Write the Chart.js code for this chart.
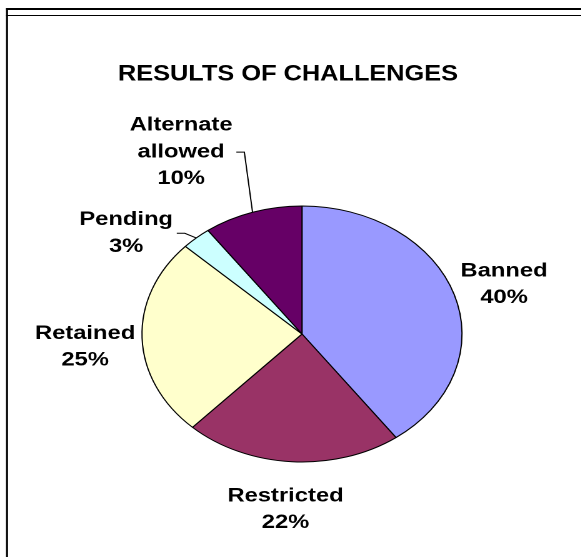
<!DOCTYPE html>
<html>
<head>
<meta charset="utf-8">
<title>Results of Challenges</title>
<script src="https://cdn.jsdelivr.net/npm/chart.js@4.4.1/dist/chart.umd.min.js"></script>
<style>
  html, body { margin: 0; padding: 0; background: #fff; overflow: hidden; }
  /* chart is laid out narrow, then widened so the pie becomes an oval */
  #wrap { width: 465px; height: 557px; transform: scaleX(1.25); transform-origin: 0 0; }
</style>
</head>
<body>
<div id="wrap"><canvas id="challengeChart" width="465" height="557"></canvas></div>
<script>
// chart data
const chartTitle = 'RESULTS OF CHALLENGES';
const categories = ['Banned', 'Restricted', 'Retained', 'Pending', 'Alternate allowed'];
const percents = [40, 22, 25, 3, 10];
const sliceColors = ['#9999FF', '#993366', '#FFFFCC', '#CCFFFF', '#660066'];

// label placement: turn (degrees) off the slice middle, gap past the rim
const labelPlacement = [
  { turn: 1, gap: 41, leader: false },
  { turn: 0.7, gap: 48, leader: false },
  { turn: -2.5, gap: 46, leader: false },
  { turn: -13, gap: 45, leader: true },
  { turn: -10, gap: 78, leader: true },
];

const fontFamily = '"Liberation Sans", Arial, sans-serif';
const labelFont = 'bold 19px ' + fontFamily;
const titleFont = 'bold 22px ' + fontFamily;
const lineGap = 26.7;

// white background, frame lines at top and left, and the heading
const frame = {
  id: 'frame',
  beforeDraw(chart) {
    const ctx = chart.ctx;
    ctx.save();
    ctx.fillStyle = '#fff';
    ctx.fillRect(0, 0, chart.width, chart.height);
    ctx.fillStyle = '#000';
    ctx.fillRect(4.8, 8, chart.width, 2);
    ctx.fillRect(4.8, 15, chart.width, 1);
    ctx.fillRect(4.8, 8, 1.6, chart.height);
    ctx.font = titleFont;
    ctx.textAlign = 'center';
    ctx.textBaseline = 'middle';
    ctx.fillText(chartTitle, 230.4, 74.5, 272);
    ctx.restore();
  }
};

// name + percent outside each slice, with leader lines for the small ones
const sliceLabels = {
  id: 'sliceLabels',
  afterDatasetsDraw(chart) {
    const ctx = chart.ctx;
    const meta = chart.getDatasetMeta(0);
    const values = chart.data.datasets[0].data;
    const total = values.reduce((a, b) => a + b, 0);
    ctx.save();
    ctx.font = labelFont;
    ctx.textAlign = 'center';
    ctx.textBaseline = 'middle';
    ctx.fillStyle = '#000';
    meta.data.forEach((arc, i) => {
      const p = arc.getProps(['x', 'y', 'startAngle', 'endAngle', 'outerRadius'], true);
      const mid = (p.startAngle + p.endAngle) / 2;
      const place = labelPlacement[i];
      const a = mid + place.turn * Math.PI / 180;
      const dist = p.outerRadius + place.gap;
      const cx = p.x + Math.cos(a) * dist;
      const cy = p.y + Math.sin(a) * dist;
      const lines = chart.data.labels[i].split(' ');
      lines.push(Math.round(values[i] / total * 100) + '%');
      const top = cy - (lines.length - 1) * lineGap / 2;
      let widest = 0;
      lines.forEach((t, k) => {
        ctx.fillText(t, cx, top + k * lineGap);
        widest = Math.max(widest, ctx.measureText(t).width);
      });
      if (place.leader) {
        const sx = cx + widest / 2 + 3;
        ctx.beginPath();
        ctx.moveTo(sx, cy);
        ctx.lineTo(sx + 6.4, cy);
        ctx.lineTo(p.x + Math.cos(mid) * p.outerRadius, p.y + Math.sin(mid) * p.outerRadius);
        ctx.strokeStyle = '#000';
        ctx.lineWidth = 1;
        ctx.stroke();
      }
    });
    ctx.restore();
  }
};

new Chart(document.getElementById('challengeChart'), {
  type: 'pie',
  data: {
    labels: categories,
    datasets: [{
      data: percents,
      backgroundColor: sliceColors,
      borderColor: '#000',
      borderWidth: 1,
      radius: 128,
      hoverOffset: 0
    }]
  },
  options: {
    responsive: false,
    animation: false,
    events: [],
    devicePixelRatio: 2,
    layout: { padding: { top: 206, left: 113.6, right: 95.4, bottom: 95 } },
    plugins: {
      legend: { display: false },
      tooltip: { enabled: false },
      title: { display: false }
    }
  },
  plugins: [frame, sliceLabels]
});
</script>
</body>
</html>
